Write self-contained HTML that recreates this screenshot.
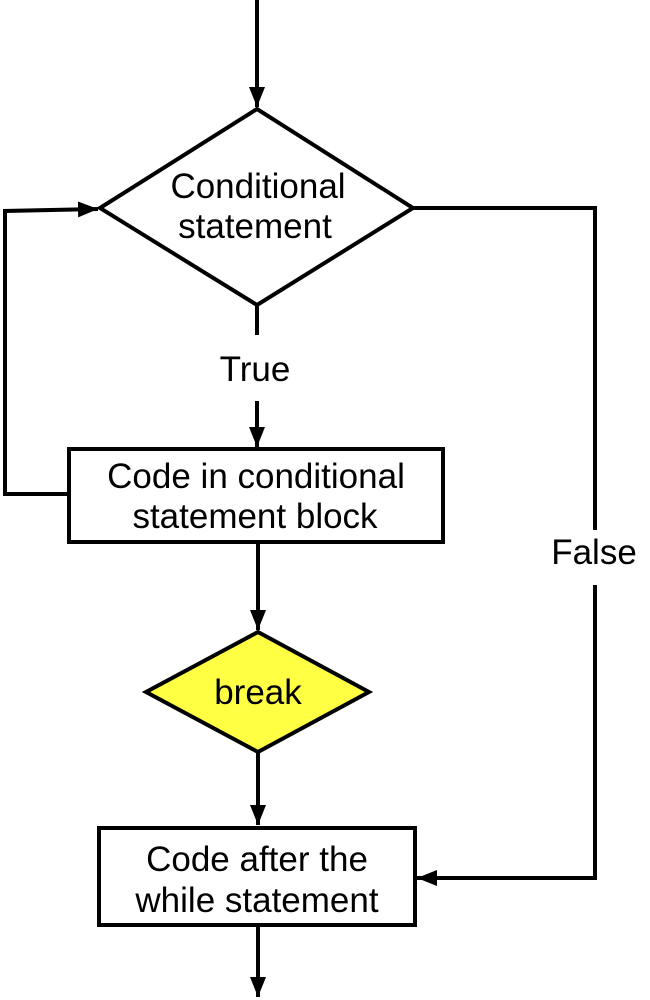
<!DOCTYPE html>
<html><head><meta charset="utf-8"><style>
html,body{margin:0;padding:0;background:#fff;}
svg{display:block}
text{font-family:"Liberation Sans",Arial,sans-serif;font-size:35px;fill:#000;text-anchor:middle;}
</style></head><body>
<svg width="650" height="1000" viewBox="0 0 650 1000" xmlns="http://www.w3.org/2000/svg">
<defs>
<marker id="a" markerWidth="5" markerHeight="4" refX="5" refY="2" orient="auto" markerUnits="strokeWidth">
<path d="M0,0 L5,2 L0,4 z" fill="#000"/>
</marker>
</defs>
<g stroke="#000" stroke-width="4" fill="none">
<line x1="257" y1="0" x2="257" y2="107" marker-end="url(#a)"/>
<polygon points="100,208 257,109 413,208 257,305" fill="#fff"/>
<line x1="257" y1="305" x2="257" y2="335"/>
<line x1="257" y1="401" x2="257" y2="447" marker-end="url(#a)"/>
<rect x="69" y="449" width="374" height="93" fill="#fff"/>
<polyline points="69,494 5,494 5,211 98,209" marker-end="url(#a)"/>
<line x1="258" y1="542" x2="258" y2="630" marker-end="url(#a)"/>
<polygon points="146,692 258,632 369,692 258,752" fill="#ffff44"/>
<line x1="258" y1="752" x2="258" y2="825" marker-end="url(#a)"/>
<rect x="99" y="828" width="316" height="97" fill="#fff"/>
<line x1="258" y1="925" x2="258" y2="997" marker-end="url(#a)"/>
<polyline points="413,208 595,208 595,530"/>
<polyline points="595,585 595,878 417,878" marker-end="url(#a)"/>
</g>
<text x="258" y="198">Conditional</text>
<text x="255" y="238">statement</text>
<text x="255" y="381">True</text>
<text x="256" y="488">Code in conditional</text>
<text x="255" y="528">statement block</text>
<text x="258" y="704">break</text>
<text x="257" y="871">Code after the</text>
<text x="257" y="912">while statement</text>
<text x="594" y="564">False</text>
</svg>
</body></html>
